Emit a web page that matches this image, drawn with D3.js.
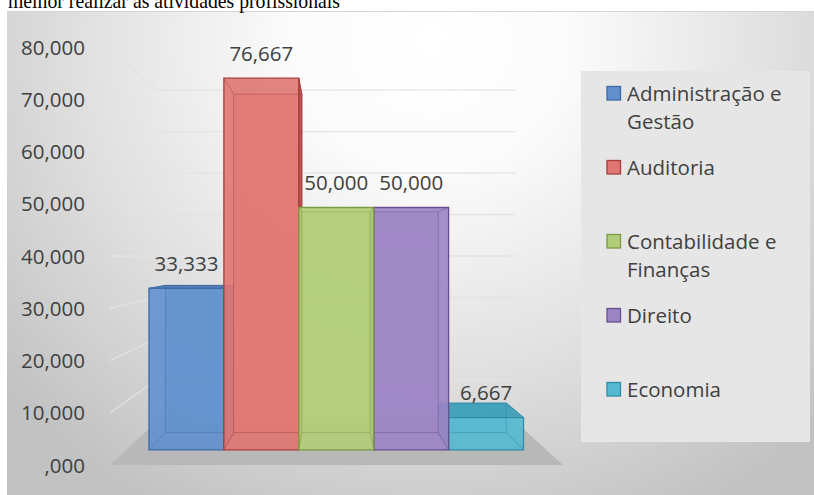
<!DOCTYPE html>
<html>
<head>
<meta charset="utf-8">
<script src="https://cdn.jsdelivr.net/npm/d3@7"></script>
<style>
  html, body { margin: 0; padding: 0; background: #ffffff; }
  svg { display: block; }
</style>
</head>
<body>
<svg id="chart" width="814" height="495"></svg>
<script>
// ---- data ----
const categories = ["Administração e Gestão", "Auditoria", "Contabilidade e Finanças", "Direito", "Economia"];
const legendLines = [["Administração e", "Gestão"], ["Auditoria"], ["Contabilidade e", "Finanças"], ["Direito"], ["Economia"]];
const values = [33.333, 76.667, 50.000, 50.000, 6.667];
const valueLabels = ["33,333", "76,667", "50,000", "50,000", "6,667"];
const tickValues = [0, 10, 20, 30, 40, 50, 60, 70, 80];
const tickLabels = [",000", "10,000", "20,000", "30,000", "40,000", "50,000", "60,000", "70,000", "80,000"];
const fills = ["#6290cd", "#e07572", "#b1cd79", "#9b84c3", "#55b9d1"];
const edges = ["#3d6ba8", "#a53e3b", "#7c9a41", "#67508f", "#2f8ca6"];
const sides = ["#4f7bb5", "#b85250", "#94b25c", "#7f68a8", "#3f9fb8"];
const titleText = "melhor realizar as atividades profissionais";

const svg = d3.select("#chart");
const FONT = "'Open Sans', 'Noto Sans', sans-serif";

// ---- perspective set-up ----
const VP = [333, 256];              // vanishing point
const S_WALL = 0.794;               // depth scale of the back wall
const S_BAR_FRONT = 0.928;          // depth scale of the bars' front faces
const S_BAR_BACK = 0.845;           // depth scale of the bars' back faces
const proj = (x, y, s) => [VP[0] + (x - VP[0]) * s, VP[1] + (y - VP[1]) * s];

const floorX0 = 110, floorX1 = 563;
const y = d3.scaleLinear().domain([0, 80]).range([465, 47]);
const x = d3.scaleBand().domain(categories).range([floorX0 + 24.7, floorX1 - 24.7]).padding(0);

// ---- background ----
const defs = svg.append("defs");
const bg = defs.append("radialGradient").attr("id", "bgGrad")
  .attr("gradientUnits", "userSpaceOnUse")
  .attr("cx", 430).attr("cy", 40).attr("r", 560)
  .attr("gradientTransform", "translate(430,40) scale(1,0.95) translate(-430,-40)");
[[0, "#ffffff"], [0.25, "#fbfbfb"], [0.6, "#e2e2e2"], [1, "#c2c2c2"]].forEach(([o, c]) =>
  bg.append("stop").attr("offset", o).attr("stop-color", c));

svg.append("rect").attr("x", 7).attr("y", 11).attr("width", 814 - 7).attr("height", 495 - 11)
  .attr("fill", "url(#bgGrad)");
svg.append("line").attr("x1", 7).attr("x2", 814).attr("y1", 11.5).attr("y2", 11.5)
  .attr("stroke", "#d4d4d4").attr("stroke-width", 1);

// title line of the surrounding document, running off the top edge
svg.append("text").attr("x", 8).attr("y", 8)
  .attr("font-family", "'Liberation Serif', 'Times New Roman', serif")
  .attr("font-size", 21).attr("fill", "#000")
  .attr("textLength", 332).attr("lengthAdjust", "spacingAndGlyphs")
  .text(titleText);

// ---- walls: gridlines on side wall and back wall ----
const grid = svg.append("g");
tickValues.forEach(v => {
  const f = [floorX0, y(v)];
  const bl = proj(floorX0, y(v), S_WALL);
  const br = proj(floorX1, y(v), S_WALL);
  grid.append("path")
    .attr("d", d3.line()([f, bl, br]))
    .attr("fill", "none").attr("stroke", v === 0 ? "none" : "#e3e3e3").attr("stroke-width", 1.3);
});

// floor
const floorPts = [proj(floorX0, y(0), 1), proj(floorX1, y(0), 1), proj(floorX1, y(0), S_WALL), proj(floorX0, y(0), S_WALL)];
svg.append("path").attr("d", d3.line()(floorPts) + "Z").attr("fill", "#b8b8b8");

// ---- axis labels ----
svg.append("g").selectAll("text").data(tickValues).join("text")
  .attr("x", 85).attr("y", d => y(d) + 7.5)
  .attr("text-anchor", "end")
  .attr("font-family", FONT).attr("font-size", 20.5).attr("fill", "#404040")
  .text((d, i) => tickLabels[i]);

// ---- bars ----
const barData = categories.map((c, i) => {
  const x0 = x(c), x1 = x(c) + x.bandwidth();
  const yt = y(values[i]), yb = y(0);
  const F = { tl: proj(x0, yt, S_BAR_FRONT), tr: proj(x1, yt, S_BAR_FRONT), br: proj(x1, yb, S_BAR_FRONT), bl: proj(x0, yb, S_BAR_FRONT) };
  const B = { tl: proj(x0, yt, S_BAR_BACK), tr: proj(x1, yt, S_BAR_BACK), br: proj(x1, yb, S_BAR_BACK), bl: proj(x0, yb, S_BAR_BACK) };
  return { i, F, B, cx: (F.tl[0] + F.tr[0]) / 2 };
});
// paint order: outermost first, the bar containing the vanishing point last
const order = barData.slice().sort((a, b) => Math.abs(b.cx - VP[0]) - Math.abs(a.cx - VP[0]));

const bars = svg.append("g");
const poly = pts => d3.line()(pts) + "Z";
order.forEach(d => {
  const g = bars.append("g");
  const { F, B, i } = d;
  // back face (seen through the translucent front)
  g.append("path").attr("d", poly([B.tl, B.tr, B.br, B.bl]))
    .attr("fill", fills[i]).attr("fill-opacity", 0.5);
  // visible side face
  if (F.tr[0] < B.tr[0]) {
    g.append("path").attr("d", poly([F.tr, B.tr, B.br, F.br]))
      .attr("fill", sides[i]).attr("fill-opacity", 0.95).attr("stroke", edges[i]).attr("stroke-width", 1);
  }
  if (F.tl[0] > B.tl[0]) {
    g.append("path").attr("d", poly([B.tl, F.tl, F.bl, B.bl]))
      .attr("fill", sides[i]).attr("fill-opacity", 0.95).attr("stroke", edges[i]).attr("stroke-width", 1);
  }
  // top face when it lies below eye level
  if (B.tl[1] < F.tl[1]) {
    g.append("path").attr("d", poly([F.tl, F.tr, B.tr, B.tl]))
      .attr("fill", sides[i]).attr("fill-opacity", 0.95).attr("stroke", edges[i]).attr("stroke-width", 1);
  }
  // front face
  g.append("path").attr("d", poly([F.tl, F.tr, F.br, F.bl]))
    .attr("fill", fills[i]).attr("fill-opacity", 0.9)
    .attr("stroke", edges[i]).attr("stroke-width", 1.3);
  // hidden edges showing through
  const hid = g.append("g").attr("stroke", edges[i]).attr("stroke-opacity", 0.45).attr("stroke-width", 1).attr("fill", "none");
  hid.append("path").attr("d", poly([B.tl, B.tr, B.br, B.bl]));
  ["tl", "tr", "br", "bl"].forEach(k =>
    hid.append("path").attr("d", d3.line()([F[k], B[k]])));
});

// ---- value labels ----
svg.append("g").selectAll("text").data(barData).join("text")
  .attr("x", d => d.cx).attr("y", d => d.F.tl[1] - 17.5)
  .attr("text-anchor", "middle")
  .attr("font-family", FONT).attr("font-size", 20.5).attr("fill", "#404040")
  .text(d => valueLabels[d.i]);

// ---- legend ----
svg.append("rect").attr("x", 581).attr("y", 71).attr("width", 229).attr("height", 371).attr("fill", "#e6e6e6");
const ly = d3.scaleLinear().domain([0, 4]).range([93.5, 389.5]);
const leg = svg.append("g").selectAll("g").data(categories).join("g")
  .attr("transform", (d, i) => `translate(0,${ly(i)})`);
leg.append("rect").attr("x", 607).attr("y", -7).attr("width", 13.5).attr("height", 13.5)
  .attr("fill", (d, i) => fills[i]).attr("stroke", (d, i) => edges[i]).attr("stroke-width", 1.3);
leg.each(function (d, i) {
  const t = d3.select(this).append("text")
    .attr("font-family", FONT).attr("font-size", 20.5).attr("fill", "#404040");
  legendLines[i].forEach((line, k) =>
    t.append("tspan").attr("x", 627).attr("y", 7 + k * 28.4).text(line));
});
</script>
</body>
</html>
